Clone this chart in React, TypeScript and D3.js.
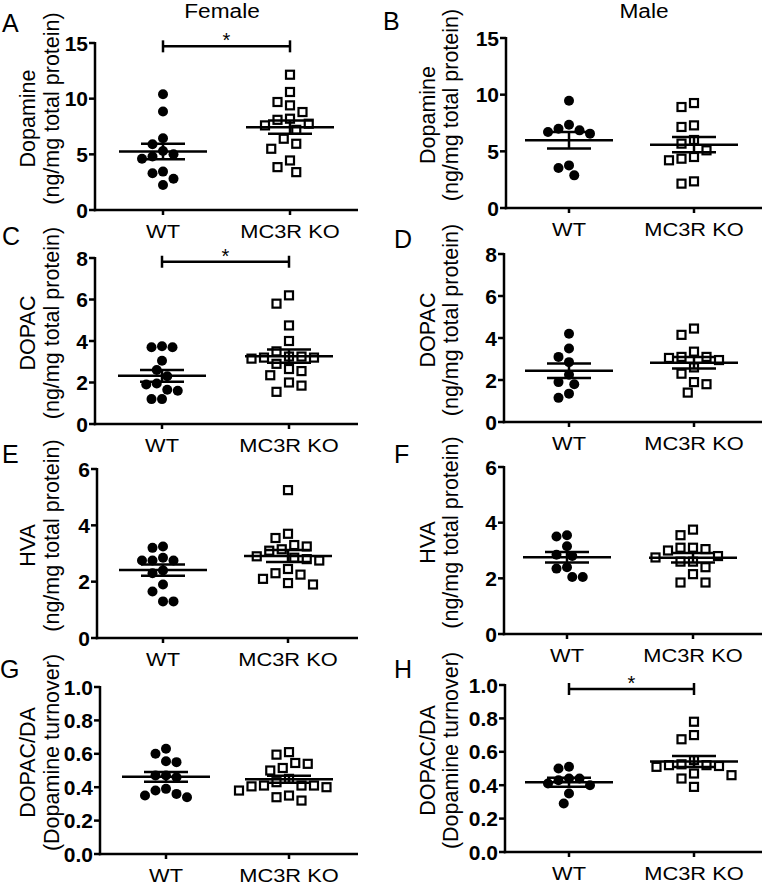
import React from 'react';
import * as d3 from 'd3';

// ---------------- DATA ----------------
const groups = ['WT', 'MC3R KO'];
const sexTitles = ['Female', 'Male'];

const femaleDA_WT = [10.4, 8.85, 6.45, 5.9, 5.3, 5.0, 4.8, 4.6, 3.45, 3.3, 2.8, 2.25];
const femaleDA_KO = [12.15, 10.6, 9.7, 9.4, 8.8, 8.2, 8.1, 7.75, 7.6, 7.2, 6.4, 5.95, 5.5, 4.45, 3.85, 3.4];
const maleDA_WT = [9.47, 7.35, 7.0, 6.85, 6.7, 6.56, 3.76, 3.53, 2.88];
const maleDA_KO = [9.26, 8.91, 7.29, 7.15, 6.0, 5.68, 5.09, 4.35, 4.21, 4.5, 2.15, 2.35];

const femaleDOPAC_WT = [3.7, 3.7, 3.75, 3.05, 2.6, 2.3, 1.95, 1.9, 1.65, 1.6, 1.2, 1.2];
const femaleDOPAC_KO = [6.2, 5.8, 4.75, 4.0, 3.5, 3.25, 3.2, 3.15, 3.2, 3.25, 2.9, 2.55, 2.65, 2.35, 2.0, 1.85, 1.55];
const maleDOPAC_WT = [4.2, 3.5, 3.1, 2.85, 2.25, 1.9, 1.8, 1.35, 1.15];
const maleDOPAC_KO = [4.45, 4.15, 3.35, 3.1, 3.1, 2.95, 3.05, 2.6, 2.3, 1.9, 1.8, 1.4];

const femaleHVA_WT = [3.2, 3.25, 2.75, 2.75, 2.85, 2.75, 2.4, 2.3, 1.9, 1.65, 1.3, 1.3];
const femaleHVA_KO = [5.25, 3.7, 3.55, 3.25, 3.1, 3.15, 3.3, 2.85, 2.8, 2.9, 2.75, 2.45, 2.3, 2.25, 2.1, 1.9, 1.95];
const maleHVA_WT = [3.55, 3.5, 3.15, 2.85, 2.8, 2.35, 2.4, 2.05, 2.05];
const maleHVA_KO = [3.75, 3.55, 3.1, 3.0, 3.05, 3.1, 2.8, 2.75, 2.6, 2.6, 2.4, 2.15, 1.85, 1.85];

const femaleTurn_WT = [0.63, 0.6, 0.55, 0.555, 0.47, 0.46, 0.47, 0.39, 0.36, 0.34, 0.35, 0.38];
const femaleTurn_KO = [0.61, 0.595, 0.54, 0.545, 0.5, 0.515, 0.41, 0.405, 0.4, 0.41, 0.38, 0.41, 0.35, 0.34, 0.32, 0.43, 0.45];
const maleTurn_WT = [0.51, 0.5, 0.44, 0.43, 0.44, 0.41, 0.4, 0.35, 0.29];
const maleTurn_KO = [0.78, 0.7, 0.675, 0.55, 0.52, 0.515, 0.51, 0.52, 0.525, 0.46, 0.47, 0.44, 0.39];

// mean and SEM per panel [WT, KO]
const panelMeans = [
  [5.25, 7.44], [5.97, 5.59],
  [2.32, 3.27], [2.44, 2.82],
  [2.41, 2.91], [2.76, 2.74],
  [0.462, 0.448], [0.418, 0.542],
];
const panelSEMs = [
  [0.69, 0.6], [0.73, 0.67],
  [0.28, 0.32], [0.34, 0.27],
  [0.2, 0.21], [0.19, 0.17],
  [0.029, 0.021], [0.027, 0.033],
];

const panelLetters = ['A', 'B', 'C', 'D', 'E', 'F', 'G', 'H'];
const yLabels = [
  ['Dopamine', '(ng/mg total protein)'],
  ['Dopamine', '(ng/mg total protein)'],
  ['DOPAC', '(ng/mg total protein)'],
  ['DOPAC', '(ng/mg total protein)'],
  ['HVA', '(ng/mg total protein)'],
  ['HVA', '(ng/mg total protein)'],
  ['DOPAC/DA', '(Dopamine turnover)'],
  ['DOPAC/DA', '(Dopamine turnover)'],
];
const yMaxes = [15, 15, 8, 8, 6, 6, 1.0, 1.0];
const yTicks = [
  [0, 5, 10, 15], [0, 5, 10, 15],
  [0, 2, 4, 6, 8], [0, 2, 4, 6, 8],
  [0, 2, 4, 6], [0, 2, 4, 6],
  [0, 0.2, 0.4, 0.6, 0.8, 1.0], [0, 0.2, 0.4, 0.6, 0.8, 1.0],
];
const tickFormats = ['d', 'd', 'd', 'd', 'd', 'd', '.1f', '.1f'];
// significance bar level (null = none)
const sigLevels: (number | null)[] = [14.7, null, 7.82, null, null, null, null, 0.976];

const panelData = [
  [femaleDA_WT, femaleDA_KO], [maleDA_WT, maleDA_KO],
  [femaleDOPAC_WT, femaleDOPAC_KO], [maleDOPAC_WT, maleDOPAC_KO],
  [femaleHVA_WT, femaleHVA_KO], [maleHVA_WT, maleHVA_KO],
  [femaleTurn_WT, femaleTurn_KO], [maleTurn_WT, maleTurn_KO],
];

// ---------------- LAYOUT ----------------
const layout = [
  { axisX: 95, top: 43, bottom: 210, right: 358, wt: 163, ko: 290, letterX: 2, letterY: 32 },
  { axisX: 506, top: 38, bottom: 208, right: 762, wt: 569, ko: 694, letterX: 383, letterY: 30 },
  { axisX: 95, top: 258, bottom: 424, right: 358, wt: 162, ko: 289, letterX: 2, letterY: 245 },
  { axisX: 504, top: 254, bottom: 422, right: 762, wt: 569, ko: 694, letterX: 394, letterY: 248 },
  { axisX: 97, top: 469, bottom: 638, right: 358, wt: 163, ko: 288, letterX: 2, letterY: 463 },
  { axisX: 504, top: 467, bottom: 634, right: 762, wt: 567, ko: 693, letterX: 394, letterY: 463 },
  { axisX: 100, top: 687, bottom: 854, right: 358, wt: 166, ko: 289, letterX: 0, letterY: 678 },
  { axisX: 505, top: 685, bottom: 852, right: 762, wt: 569, ko: 694, letterX: 394, letterY: 678 },
];
const labelCols = [
  { l1: 28, l2: 52 },
  { l1: 428, l2: 451 },
];
const titlePos = [
  { x: 222, y: 18 },
  { x: 644, y: 18 },
];

const FONT = "'Liberation Sans', Arial, Helvetica, sans-serif";
const CIRCLE_R = 5;
const SQUARE_S = 8;

function swarm(ys: number[], d: number): number[] {
  const order = d3.range(ys.length).sort((a, b) => ys[a] - ys[b]);
  const placed: { x: number; y: number }[] = [];
  const xs = new Array(ys.length).fill(0);
  for (const i of order) {
    const y = ys[i];
    for (let k = 0; k < 60; k++) {
      const off = k === 0 ? 0 : (k % 2 === 1 ? -1 : 1) * Math.ceil(k / 2) * (d / 2);
      if (placed.every((p) => Math.hypot(p.x - off, p.y - y) >= d * 0.97)) {
        xs[i] = off;
        placed.push({ x: off, y });
        break;
      }
    }
  }
  return xs;
}

function Panel({ idx }: { idx: number }) {
  const L = layout[idx];
  const y = d3.scaleLinear().domain([0, yMaxes[idx]]).range([L.bottom, L.top]);
  const x = d3.scalePoint<string>().domain(groups).range([L.wt, L.ko]);
  const fmt = d3.format(tickFormats[idx]);
  const col = idx % 2;
  const lc = labelCols[col];
  const mid = (L.top + L.bottom) / 2;
  const [wtVals, koVals] = panelData[idx];
  const wtY = wtVals.map((v) => y(v));
  const koY = koVals.map((v) => y(v));
  const wtOff = swarm(wtY, 10.5);
  const koOff = swarm(koY, 12.5);
  const sig = sigLevels[idx];
  const sw = 2.5;

  return (
    <g>
      <text x={L.letterX} y={L.letterY} fontSize={25} fontFamily={FONT}>
        {panelLetters[idx]}
      </text>
      {/* y label */}
      <text
        transform={`translate(${lc.l1},${mid - 8}) rotate(-90)`}
        textAnchor="middle"
        dominantBaseline="central"
        fontSize={21.5}
        fontFamily={FONT}
      >
        {yLabels[idx][0]}
      </text>
      <text
        transform={`translate(${lc.l2},${mid - 18}) rotate(-90)`}
        textAnchor="middle"
        dominantBaseline="central"
        fontSize={21.5}
        fontFamily={FONT}
      >
        {yLabels[idx][1]}
      </text>
      {/* axes */}
      <line x1={L.axisX} x2={L.axisX} y1={L.top - 1} y2={L.bottom + sw / 2} stroke="#000" strokeWidth={sw} />
      <line x1={L.axisX - sw / 2} x2={L.right} y1={L.bottom} y2={L.bottom} stroke="#000" strokeWidth={sw} />
      {yTicks[idx].map((t) => (
        <g key={t}>
          <line x1={L.axisX - 6} x2={L.axisX} y1={y(t)} y2={y(t)} stroke="#000" strokeWidth={sw} />
          <text
            x={L.axisX - 7}
            y={y(t)}
            textAnchor="end"
            dominantBaseline="central"
            fontSize={21}
            fontWeight="bold"
            fontFamily={FONT}
          >
            {fmt(t)}
          </text>
        </g>
      ))}
      {groups.map((g) => (
        <g key={g}>
          <line x1={x(g)} x2={x(g)} y1={L.bottom} y2={L.bottom + 5} stroke="#000" strokeWidth={sw} />
          <text
            transform={`translate(${x(g)},${L.bottom + 28}) scale(1.18,1)`}
            textAnchor="middle"
            fontSize={18.5}
            fontFamily={FONT}
          >
            {g}
          </text>
        </g>
      ))}
      {/* points */}
      {wtVals.map((v, i) => (
        <circle key={'w' + i} cx={(x('WT') as number) + wtOff[i]} cy={wtY[i]} r={CIRCLE_R} fill="#000" />
      ))}
      {koVals.map((v, i) => (
        <rect
          key={'k' + i}
          x={(x('MC3R KO') as number) + koOff[i] - SQUARE_S / 2}
          y={koY[i] - SQUARE_S / 2}
          width={SQUARE_S}
          height={SQUARE_S}
          fill="#fff"
          stroke="#000"
          strokeWidth={2.2}
        />
      ))}
      {/* mean and SEM */}
      {groups.map((g, gi) => {
        const cx = x(g) as number;
        const m = panelMeans[idx][gi];
        const s = panelSEMs[idx][gi];
        return (
          <g key={'ms' + g} stroke="#000" strokeWidth={2.5}>
            <line x1={cx - 44} x2={cx + 44} y1={y(m)} y2={y(m)} />
            <line x1={cx - 22} x2={cx + 22} y1={y(m + s)} y2={y(m + s)} />
            <line x1={cx - 22} x2={cx + 22} y1={y(m - s)} y2={y(m - s)} />
            <line x1={cx} x2={cx} y1={y(m + s)} y2={y(m - s)} />
          </g>
        );
      })}
      {sig !== null && (
        <g>
          <g stroke="#000" strokeWidth={2.5}>
            <line x1={x('WT')} x2={x('MC3R KO')} y1={y(sig)} y2={y(sig)} />
            <line x1={x('WT')} x2={x('WT')} y1={y(sig) - 6} y2={y(sig) + 6} />
            <line x1={x('MC3R KO')} x2={x('MC3R KO')} y1={y(sig) - 6} y2={y(sig) + 6} />
          </g>
          <text
            x={((x('WT') as number) + (x('MC3R KO') as number)) / 2}
            y={y(sig) + 1}
            textAnchor="middle"
            fontSize={20}
            fontFamily={FONT}
          >
            *
          </text>
        </g>
      )}
    </g>
  );
}

export default function App() {
  return (
    <svg width={762} height={885} style={{ position: 'absolute', left: 0, top: 0, background: '#fff' }}>
      <rect x={0} y={0} width={762} height={885} fill="#fff" />
      {sexTitles.map((t, i) => (
        <text
          key={t}
          transform={`translate(${titlePos[i].x},${titlePos[i].y}) scale(1.08,1)`}
          textAnchor="middle"
          fontSize={21}
          fontFamily={FONT}
        >
          {t}
        </text>
      ))}
      {panelLetters.map((_, i) => (
        <Panel key={i} idx={i} />
      ))}
    </svg>
  );
}
